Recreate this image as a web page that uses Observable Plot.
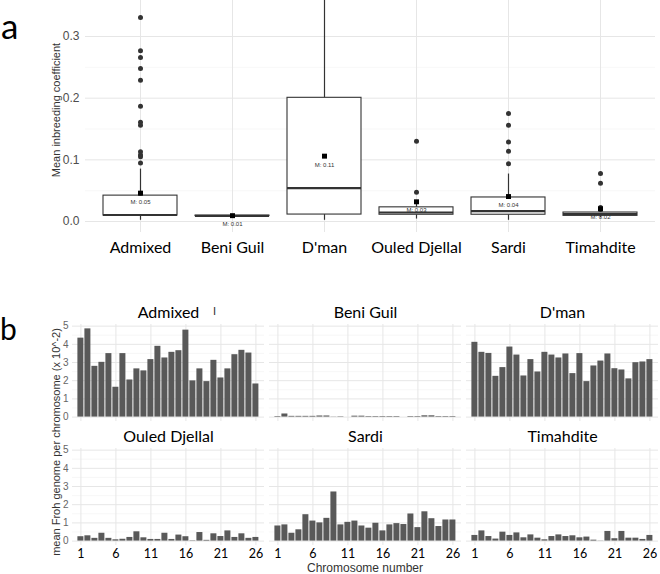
<!DOCTYPE html>
<html><head><meta charset="utf-8">
<script src="https://cdn.jsdelivr.net/npm/d3@7"></script>
<script src="https://cdn.jsdelivr.net/npm/@observablehq/plot@0.6"></script>
<style>
html,body{margin:0;padding:0;background:#fff;}
#wrap{position:relative;width:660px;height:574px;overflow:hidden;background:#fff;}
#topChart,#bottomChart{position:absolute;left:0;}
#topChart{top:0;}
#bottomChart{top:280px;}
.lbl{position:absolute;white-space:nowrap;line-height:1;}
.panel{font-family:Lato,sans-serif;color:#000;}
.ytitle{font-family:"Liberation Sans",Arial,sans-serif;font-size:11px;color:#333;transform:translate(-50%,-50%) rotate(-90deg);}
.xtitle{font-family:"Liberation Sans",Arial,sans-serif;font-size:12px;color:#333;transform:translate(-50%,-50%);}
</style></head><body>
<div id="wrap">
  <div id="topChart"></div>
  <div id="bottomChart"></div>
  <div class="lbl panel" style="left:1px;top:8px;font-size:35px;">a</div>
  <div class="lbl panel" style="left:0px;top:313px;font-size:30px;">b</div>
  <div class="lbl ytitle" style="left:56px;top:110px;">Mean inbreeding coefficient</div>
  <div class="lbl ytitle" style="left:56px;top:442px;">mean Froh genome per chromosome (x 10^-2)</div>
  <div class="lbl xtitle" style="left:365px;top:568px;">Chromosome number</div>
  <div class="lbl panel" style="left:213px;top:305px;font-size:11px;color:#333;">I</div>
</div>
<script>
// ---- Panel a: inbreeding coefficient box plots ----
const breeds = ["Admixed", "Beni Guil", "D'man", "Ouled Djellal", "Sardi", "Timahdite"];
const boxQ1 = [0.0097, 0.0088, 0.0113, 0.0110, 0.0110, 0.0092];
const boxMedian = [0.0106, 0.0092, 0.0540, 0.0146, 0.0167, 0.0120];
const boxQ3 = [0.0420, 0.0096, 0.2006, 0.0230, 0.0390, 0.0146];
const whiskerLow = [0.002, 0.008, 0.002, 0.004, 0.002, 0.006];
const whiskerHigh = [0.085, 0.010, 0.400, 0.028, 0.077, 0.017];
const breedMeans = [0.046, 0.0095, 0.106, 0.032, 0.0405, 0.0206];
const admixedOutliers = [0.331, 0.277, 0.266, 0.248, 0.229, 0.187, 0.161, 0.156, 0.113, 0.108, 0.105, 0.095, 0.046];
const beniGuilOutliers = [];
const dmanOutliers = [];
const ouledDjellalOutliers = [0.130, 0.0475];
const sardiOutliers = [0.175, 0.156, 0.129, 0.114, 0.0935];
const timahditeOutliers = [0.078, 0.062, 0.0227, 0.0195];
const inbreedingTicks = [0, 0.1, 0.2, 0.3];
const inbreedingMinorTicks = [0.05, 0.15, 0.25];

// ---- Panel b: Froh per chromosome ----
const chromosomes = [1, 2, 3, 4, 5, 6, 7, 8, 9, 10, 11, 12, 13, 14, 15, 16, 17, 18, 19, 20, 21, 22, 23, 24, 25, 26];
const chromosomeTicks = [1, 6, 11, 16, 21, 26];
const frohTicks = [0, 1, 2, 3, 4, 5];
const frohMinorTicks = [0.5, 1.5, 2.5, 3.5, 4.5];
const admixedFroh = [4.34, 4.85, 2.79, 3.01, 3.49, 1.64, 3.49, 2.04, 2.65, 2.54, 3.16, 3.89, 3.25, 3.56, 3.65, 4.78, 1.99, 2.65, 1.95, 3.12, 2.15, 2.65, 3.43, 3.67, 3.52, 1.82];
const beniGuilFroh = [0.03, 0.17, 0.04, 0.04, 0.04, 0.04, 0.06, 0.06, 0.01, 0.02, 0, 0.05, 0.05, 0.03, 0.03, 0.03, 0.03, 0.03, 0, 0.03, 0.03, 0.07, 0.07, 0.03, 0.03, 0.03];
const dmanFroh = [4.11, 3.56, 3.50, 2.24, 2.72, 3.85, 3.41, 2.26, 3.16, 2.48, 3.56, 3.41, 3.25, 3.47, 2.39, 3.49, 1.95, 2.81, 3.08, 3.47, 2.66, 2.59, 2.10, 2.99, 3.03, 3.16];
const ouledDjellalFroh = [0.24, 0.29, 0.15, 0.43, 0.15, 0.07, 0.10, 0.20, 0.51, 0.18, 0.09, 0.09, 0.43, 0.09, 0.33, 0.24, 0.02, 0.47, 0.04, 0.40, 0.25, 0.56, 0.20, 0.40, 0.15, 0.20];
const sardiFroh = [0.83, 0.89, 0.43, 0.62, 1.45, 1.10, 1.00, 1.25, 2.70, 0.89, 1.03, 1.10, 0.83, 0.71, 0.98, 0.56, 0.89, 0.96, 0.91, 1.49, 0.74, 1.61, 1.23, 0.80, 1.16, 1.16];
const timahditeFroh = [0.31, 0.56, 0.25, 0.11, 0.49, 0.31, 0.45, 0.18, 0.34, 0.16, 0.07, 0.25, 0.34, 0.25, 0.29, 0.18, 0.22, 0.05, 0.01, 0.53, 0.13, 0.53, 0.16, 0.16, 0.09, 0.31];

// ---- build tables ----
const boxes = breeds.map((b, i) => ({
  breed: b, q1: boxQ1[i], med: boxMedian[i], q3: boxQ3[i],
  lo: whiskerLow[i], hi: whiskerHigh[i], mean: breedMeans[i]
}));
const outlierLists = [admixedOutliers, beniGuilOutliers, dmanOutliers, ouledDjellalOutliers, sardiOutliers, timahditeOutliers];
const outliers = breeds.flatMap((b, i) => outlierLists[i].map(v => ({breed: b, value: v})));

const frohLists = [admixedFroh, beniGuilFroh, dmanFroh, ouledDjellalFroh, sardiFroh, timahditeFroh];
const froh = breeds.flatMap((b, i) => chromosomes.map((c, j) => ({
  breed: b, col: i % 3, row: Math.floor(i / 3), chr: c, value: frohLists[i][j]
})));

const INK = "#333333";
const GRID = "#e6e6e6";
const MINOR = "#f3f3f3";

const chartA = Plot.plot({
  width: 660, height: 265,
  marginLeft: 85, marginRight: 5, marginTop: 0, marginBottom: 33,
  style: {background: "transparent", fontFamily: "'Liberation Sans', Arial, sans-serif"},
  x: {type: "band", domain: breeds, paddingInner: 0, paddingOuter: 0.0755},
  y: {domain: [-0.0178, 0.3584]},
  marks: [
    Plot.ruleY(inbreedingMinorTicks, {stroke: MINOR, strokeWidth: 0.7}),
    Plot.ruleY(inbreedingTicks, {stroke: GRID, strokeWidth: 1}),
    Plot.ruleX(breeds, {stroke: GRID, strokeWidth: 1}),
    Plot.ruleX(boxes, {x: "breed", y1: "q3", y2: "hi", stroke: INK, strokeWidth: 1.2, clip: true}),
    Plot.ruleX(boxes, {x: "breed", y1: "lo", y2: "q1", stroke: INK, strokeWidth: 1.2}),
    Plot.barY(boxes, {x: "breed", y1: "q1", y2: "q3", fill: "white", stroke: INK, strokeWidth: 1.1, insetLeft: 9, insetRight: 9}),
    Plot.tickY(boxes, {x: "breed", y: "med", stroke: INK, strokeWidth: 2.2, insetLeft: 9, insetRight: 9}),
    Plot.dot(outliers, {x: "breed", y: "value", r: 2.5, fill: INK, stroke: null}),
    Plot.dot(boxes, {x: "breed", y: "mean", symbol: "square", r: 2.8, fill: "#000", stroke: null}),
    Plot.text(boxes, {x: "breed", y: "mean", text: d => "M: " + d.mean.toFixed(2), dy: 8.5, fontSize: 6, fill: INK}),
    Plot.axisY({ticks: inbreedingTicks, tickFormat: d3.format(".1f"), tickSize: 0, tickPadding: 6, fontSize: 12, color: "#4d4d4d", label: null}),
    Plot.axisX({tickSize: 0, tickPadding: 9, fontSize: 16, fontFamily: "Lato", color: "#000", label: null})
  ]
});
document.getElementById("topChart").appendChild(chartA);

const chartB = Plot.plot({
  width: 660, height: 294,
  marginLeft: 70.6, marginRight: 0.8, marginTop: 42.9, marginBottom: 28.9,
  style: {background: "transparent", fontFamily: "'Liberation Sans', Arial, sans-serif"},
  fx: {domain: [0, 1, 2], paddingInner: 0.024, paddingOuter: 0, axis: null},
  fy: {domain: [0, 1], paddingInner: 0.218, paddingOuter: 0, axis: null},
  x: {type: "band", domain: chromosomes, paddingInner: 0.1, paddingOuter: 0.15},
  y: {domain: [-0.243, 5.09]},
  marks: [
    Plot.ruleY(frohMinorTicks, {stroke: MINOR, strokeWidth: 0.7}),
    Plot.ruleY(frohTicks, {stroke: GRID, strokeWidth: 1}),
    Plot.ruleX(chromosomeTicks, {stroke: GRID, strokeWidth: 1}),
    Plot.barY(froh, {fx: "col", fy: "row", x: "chr", y: "value", fill: "#595959"}),
    Plot.text(breeds, {fx: (d, i) => i % 3, fy: (d, i) => Math.floor(i / 3), text: d => d, frameAnchor: "top", lineAnchor: "middle", dy: -12, fontSize: 16, fontFamily: "Lato", fill: "#000"}),
    Plot.axisY({ticks: frohTicks, tickFormat: d => String(d), tickSize: 0, tickPadding: 4, fontSize: 10, color: "#666", label: null}),
    Plot.axisX({ticks: chromosomeTicks, tickSize: 0, tickPadding: 4, fontSize: 12.5, fontFamily: "Lato", color: "#000", label: null})
  ]
});
document.getElementById("bottomChart").appendChild(chartB);
</script>
</body></html>
